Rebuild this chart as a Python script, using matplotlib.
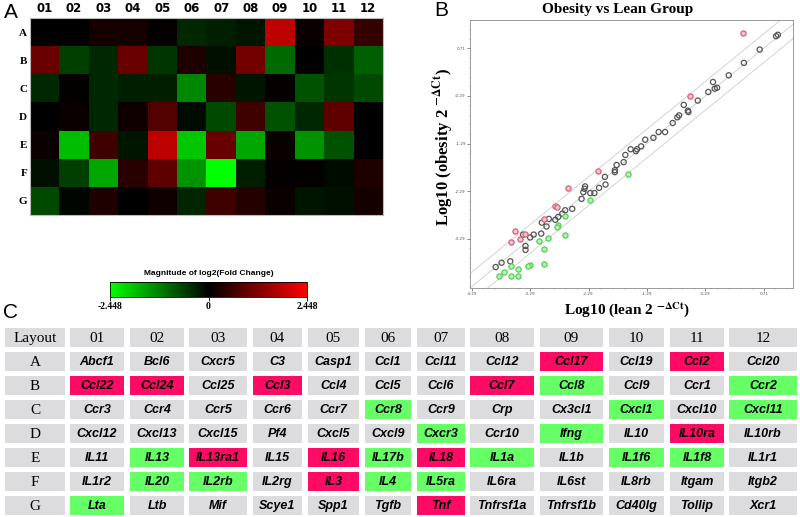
import numpy as np
import matplotlib
matplotlib.use('Agg')
import matplotlib.pyplot as plt
from matplotlib.colors import LinearSegmentedColormap
from matplotlib.patches import Rectangle

plt.rcParams['mathtext.fontset'] = 'stix'

W, H = 800, 517

# ---- panel A data
rows = ['A', 'B', 'C', 'D', 'E', 'F', 'G']
cols = ['01', '02', '03', '04', '05', '06', '07', '08', '09', '10', '11', '12']
fold = np.array([
    [0.0, 0.0, 0.2, 0.2, 0.05, -0.4, -0.3, -0.2, 1.8, 0.1, 1.2, 0.5],
    [1.0, -0.6, -0.4, 1.0, -0.5, 0.3, -0.15, 1.1, -1.0, 0.0, -0.45, -0.9],
    [-0.4, 0.02, -0.4, -0.3, -0.3, -1.3, 0.4, -0.2, 0.05, -0.8, -0.5, -0.7],
    [0.0, 0.1, -0.4, 0.15, 0.8, -0.1, -0.7, 0.6, -0.8, -0.4, 0.9, 0.0],
    [0.1, -1.8, 0.6, -0.2, 1.8, -1.9, 1.0, -1.6, 0.1, -1.4, -0.8, 0.0],
    [-0.15, -0.6, -1.6, 0.4, 0.9, -1.4, -2.448, -0.3, 0.05, 0.05, -0.1, 0.3],
    [-0.7, -0.05, 0.3, 0.0, 0.15, -0.35, 0.6, 0.35, 0.1, -0.2, -0.15, 0.2],
])
vlim = 2.448

# ---- panel B data
gray_x = [0.95, 0.92, 0.64, 0.37, 0.11, -0.16, -0.09, -0.13, -0.24, -0.42, -0.66, -0.59,
          -0.58, -0.74, -0.77, -0.85, -0.98, -1.09, -1.18, -1.32, -1.39, -1.46, -1.48,
          -1.57, -1.66, -1.69, -1.81, -1.84, -1.84, -2.01, -2.00, -2.11, -2.19, -2.26,
          -2.35, -2.36, -2.38, -2.41, -2.57, -2.69, -2.74, -2.81, -2.86, -2.97, -3.01,
          -3.09, -3.10, -3.23, -3.29, -3.37, -3.37, -3.41, -3.63, -3.78, -3.88]
gray_y = [0.99, 0.96, 0.68, 0.40, 0.14, 0.00, -0.12, -0.14, -0.21, -0.39, -0.48, -0.60,
          -0.63, -0.70, -0.74, -0.86, -1.05, -1.05, -1.17, -1.21, -1.35, -1.41, -1.45,
          -1.41, -1.53, -1.68, -1.74, -1.85, -1.89, -1.99, -2.15, -2.22, -2.33, -2.33,
          -2.19, -2.24, -2.31, -2.45, -2.66, -2.69, -2.76, -2.83, -2.89, -2.87, -3.03,
          -2.95, -3.18, -3.20, -3.26, -3.44, -3.52, -3.20, -3.76, -3.79, -3.88]
up_x = [0.35, -0.55, -2.13, -2.65, -2.87, -2.83, -3.06, -3.55, -3.61, -3.46, -3.37]
up_y = [1.02, -0.29, -1.87, -2.23, -2.60, -2.62, -2.87, -3.13, -3.36, -3.29, -3.18]
down_x = [-1.61, -2.26, -2.70, -2.82, -2.83, -2.70, -2.98, -3.14, -3.06, -3.05, -3.29,
          -3.32, -3.50, -3.61, -3.73, -3.83, -3.62, -3.50]
down_y = [-1.92, -2.48, -2.81, -2.99, -3.04, -3.20, -3.27, -3.34, -3.50, -3.81, -3.83,
          -3.85, -3.92, -3.86, -3.99, -4.06, -4.06, -4.06]
x_ticks = [-4.29, -3.29, -2.29, -1.29, -0.29, 0.71]
y_ticks = [-3.29, -2.29, -1.29, -0.29, 0.71]

# ---- panel C data
genes = [
    ['Abcf1', 'Bcl6', 'Cxcr5', 'C3', 'Casp1', 'Ccl1', 'Ccl11', 'Ccl12', 'Ccl17', 'Ccl19', 'Ccl2', 'Ccl20'],
    ['Ccl22', 'Ccl24', 'Ccl25', 'Ccl3', 'Ccl4', 'Ccl5', 'Ccl6', 'Ccl7', 'Ccl8', 'Ccl9', 'Ccr1', 'Ccr2'],
    ['Ccr3', 'Ccr4', 'Ccr5', 'Ccr6', 'Ccr7', 'Ccr8', 'Ccr9', 'Crp', 'Cx3cl1', 'Cxcl1', 'Cxcl10', 'Cxcl11'],
    ['Cxcl12', 'Cxcl13', 'Cxcl15', 'Pf4', 'Cxcl5', 'Cxcl9', 'Cxcr3', 'Ccr10', 'Ifng', 'IL10', 'IL10ra', 'IL10rb'],
    ['IL11', 'IL13', 'IL13ra1', 'IL15', 'IL16', 'IL17b', 'IL18', 'IL1a', 'IL1b', 'IL1f6', 'IL1f8', 'IL1r1'],
    ['IL1r2', 'IL20', 'IL2rb', 'IL2rg', 'IL3', 'IL4', 'IL5ra', 'IL6ra', 'IL6st', 'IL8rb', 'Itgam', 'Itgb2'],
    ['Lta', 'Ltb', 'Mif', 'Scye1', 'Spp1', 'Tgfb', 'Tnf', 'Tnfrsf1a', 'Tnfrsf1b', 'Cd40lg', 'Tollip', 'Xcr1'],
]
# u = up in obesity, d = down, . = unchanged
status = [
    '........u.u.',
    'uu.u...ud..d',
    '.....d...d.d',
    '......d.d.u.',
    '.du.udud.dd.',
    '.dd.udd.....',
    'd.....u.....',
]

# layout of the table (pixels)
col_left = [5, 70, 130, 189, 253, 308, 365, 417, 470, 540, 609, 670, 729]
col_right = [65, 124, 184, 247, 302, 359, 411, 465, 534, 603, 664, 724, 797]
row_top = [328, 352, 376, 400, 424, 448, 472, 496]
row_h = 19

serif = 'Liberation Serif'
sans = 'Liberation Sans'


def box(x0, y0, x1, y1):
    return [x0 / W, 1 - y1 / H, (x1 - x0) / W, (y1 - y0) / H]


fig = plt.figure(figsize=(W / 100, H / 100), dpi=100)

# ---------------- panel A: heatmap
cmap = LinearSegmentedColormap.from_list('gkr', [(0, 1, 0), (0, 0, 0), (1, 0, 0)])
ax = fig.add_axes(box(30, 18, 383, 215))
im = ax.imshow(fold, cmap=cmap, vmin=-vlim, vmax=vlim, aspect='auto', interpolation='nearest')
ax.set_xticks(range(len(cols)))
ax.set_xticklabels(cols, fontsize=8.5, fontweight='bold', family='DejaVu Sans')
ax.set_yticks(range(len(rows)))
ax.set_yticklabels(rows, fontsize=8, fontweight='bold', family=serif)
ax.tick_params(top=True, labeltop=True, bottom=False, labelbottom=False, length=0, pad=2)
for s in ax.spines.values():
    s.set_color('#bbbbbb')
fig.text(11 / W, 1 - 13 / H, 'A', fontsize=15, family=sans, ha='center', va='center')

# colorbar
cax = fig.add_axes(box(110, 282, 307, 297))
cb = fig.colorbar(im, cax=cax, orientation='horizontal', ticks=[-vlim, 0, vlim])
cb.outline.set_linewidth(0.6)
cax.set_xticklabels(['-2.448', '0', '2.448'], fontsize=7, fontweight='bold', family=serif)
cax.tick_params(length=3, width=0.6, pad=0.5)
cax.set_title('Magnitude of log2(Fold Change)', fontsize=6, fontweight='bold', family=sans, pad=5)

# ---------------- panel B: scatter
ax2 = fig.add_axes(box(470, 20, 793, 288))
lim = np.array([-4.32, 1.3])
d = np.log10(2)
for off in (d, 0, -d):
    ax2.plot(lim, lim + off, color='#cccccc', lw=0.6, zorder=1)
ax2.scatter(gray_x, gray_y, s=14, facecolor='none', edgecolor='#555555', lw=0.9, zorder=2)
ax2.scatter(up_x, up_y, s=14, facecolor='#f4c2cc', edgecolor='#d9607a', lw=0.9, zorder=3)
ax2.scatter(down_x, down_y, s=14, facecolor='#b9f0b9', edgecolor='#55d055', lw=0.9, zorder=3)
ax2.set_xlim(-4.32, 1.21)
ax2.set_ylim(-4.32, 1.30)
ax2.set_xticks(x_ticks)
ax2.set_xticklabels(['%.2f' % v for v in x_ticks])
ax2.set_yticks(y_ticks)
ax2.set_yticklabels(['%.2f' % v for v in y_ticks])
ax2.set_xticks(np.arange(-4.29, 1.2, 0.2), minor=True)
ax2.set_yticks(np.arange(-4.29, 1.3, 0.2), minor=True)
ax2.tick_params(labelsize=3, length=2, width=0.5, pad=1, colors='#555555')
ax2.tick_params(which='minor', length=1, width=0.4, colors='#777777')
for s in ax2.spines.values():
    s.set_color('#999999')
    s.set_linewidth(0.7)
fig.text(618 / W, 1 - 10 / H, 'Obesity vs Lean Group', fontsize=11, fontweight='bold',
         family=serif, ha='center', va='center')
fig.text(443 / W, 1 - 147 / H, r'Log10 (obesity 2 $^{\mathbf{-\Delta Ct}}$)', fontsize=12,
         fontweight='bold', family=serif, rotation=90, ha='center', va='center')
fig.text(627 / W, 1 - 310 / H, r'Log10 (lean 2 $^{\mathbf{-\Delta Ct}}$)', fontsize=11,
         fontweight='bold', family=serif, ha='center', va='center')
fig.text(441 / W, 1 - 11 / H, 'B', fontsize=15, family=sans, ha='center', va='center')

# ---------------- panel C: table
ax3 = fig.add_axes([0, 0, 1, 1], zorder=-1)
ax3.set_xlim(0, W)
ax3.set_ylim(H, 0)
ax3.axis('off')
fill = {'.': '#dcdcdf', 'u': '#ff0a64', 'd': '#66ff66'}
header = ['Layout'] + cols
for j, lab in enumerate(header):
    x0, x1 = col_left[j], col_right[j]
    ax3.add_patch(Rectangle((x0, row_top[0]), x1 - x0, row_h, color=fill['.'], lw=0))
    ax3.text((x0 + x1) / 2, row_top[0] + row_h / 2 + 1, lab, fontsize=11, family=serif,
             ha='center', va='center')
for i, r in enumerate(rows):
    y0 = row_top[i + 1]
    x0, x1 = col_left[0], col_right[0]
    ax3.add_patch(Rectangle((x0, y0), x1 - x0, row_h, color=fill['.'], lw=0))
    ax3.text((x0 + x1) / 2, y0 + row_h / 2 + 1, r, fontsize=11, family=serif,
             ha='center', va='center')
    for j in range(len(cols)):
        x0, x1 = col_left[j + 1], col_right[j + 1]
        ax3.add_patch(Rectangle((x0, y0), x1 - x0, row_h, color=fill[status[i][j]], lw=0))
        ax3.text((x0 + x1) / 2, y0 + row_h / 2 + 0.5, genes[i][j], fontsize=9,
                 fontweight='bold', style='italic', family=sans, ha='center', va='center')
fig.text(11 / W, 1 - 313 / H, 'C', fontsize=15, family=sans, ha='center', va='center')

fig.savefig('out.png', dpi=100)
